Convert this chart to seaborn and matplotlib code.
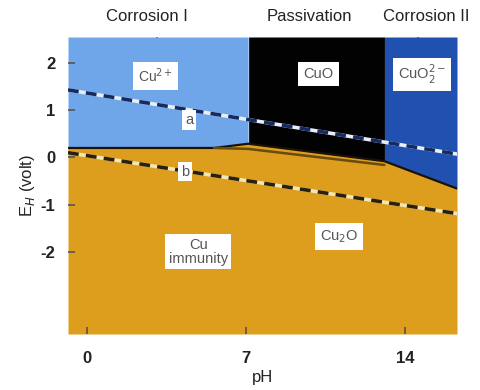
import matplotlib
matplotlib.use("Agg")
import matplotlib.pyplot as plt
import seaborn as sns
import numpy as np
import pandas as pd

sns.set_theme(style="white")
plt.rcParams['font.family'] = ['Liberation Sans', 'DejaVu Sans']

# ---- data ----
ph_lim = [-0.84, 16.3]
e_lim = [-3.74, 2.55]

# lower boundary of the oxidised/dissolved regions (top of Cu / Cu2O field)
bound_ph = [-0.84, 5.6, 7.1, 13.1, 16.3]
bound_e = [0.20, 0.20, 0.29, -0.08, -0.66]

# inner dark line (Cu / Cu2O) inside the orange field
inner_ph = [5.6, 7.1, 13.1]
inner_e = [0.20, 0.18, -0.16]

# region split points (pH)
cu2_end = 7.1
cuo_end = 13.1

# water stability lines
line_a_ph = [-0.84, 16.3]
line_a_e = [1.43, 0.07]
line_b_ph = [-0.84, 16.3]
line_b_e = [0.10, -1.19]

x_ticks = [0, 7, 14]
y_ticks = [2, 1, 0, -1, -2]

top_labels = ["Corrosion I", "Passivation", "Corrosion II"]
top_label_ph = [2.65, 9.8, 14.95]
top_tick_ph = [3.1, 14.6]

c_cu2 = "#6fa6ea"
c_cuo = "#020202"
c_cuo2 = "#2050b0"
c_cu = "#dc9e1c"

fig = plt.figure(figsize=(4.81, 3.90), dpi=100)
ax = fig.add_axes([68/481, 1-334/390, (457-68)/481, (334-37)/390])
ax.set_axisbelow(False)

xs = np.linspace(ph_lim[0], ph_lim[1], 800)
yb = np.interp(xs, bound_ph, bound_e)

ax.fill_between(xs, e_lim[0], yb, color=c_cu, lw=0)
ax.fill_between(xs, yb, e_lim[1], where=xs <= cu2_end + 0.01, color=c_cu2, lw=0)
ax.fill_between(xs, yb, e_lim[1], where=(xs >= cu2_end) & (xs <= cuo_end + 0.01), color=c_cuo, lw=0)
ax.fill_between(xs, yb, e_lim[1], where=xs >= cuo_end, color=c_cuo2, lw=0)

# boundary lines
bdf = pd.DataFrame({"pH": bound_ph, "E": bound_e})
sns.lineplot(data=bdf, x="pH", y="E", ax=ax, color="#1a1208", lw=1.6, sort=False)
idf = pd.DataFrame({"pH": inner_ph, "E": inner_e})
sns.lineplot(data=idf, x="pH", y="E", ax=ax, color="#6a4a10", lw=1.8, sort=False)

# dashed water lines (two-tone)
adf = pd.DataFrame({"pH": line_a_ph, "E": line_a_e})
sns.lineplot(data=adf, x="pH", y="E", ax=ax, color="#e8eef8", lw=2.6)
sns.lineplot(data=adf, x="pH", y="E", ax=ax, color="#152a60", lw=2.6, dashes=False,
             linestyle=(0, (3, 2)))
bdf2 = pd.DataFrame({"pH": line_b_ph, "E": line_b_e})
sns.lineplot(data=bdf2, x="pH", y="E", ax=ax, color="#f4e6b0", lw=2.6)
sns.lineplot(data=bdf2, x="pH", y="E", ax=ax, color="#2a2010", lw=2.6, dashes=False,
             linestyle=(0, (3, 2)))

box = dict(boxstyle="square,pad=0.35", fc="white", ec="none")
tc = "#555555"
ax.text(3.0, 1.73, "Cu$^{2+}$", ha="center", va="center", fontsize=10, color=tc, bbox=box)
ax.text(10.2, 1.76, "CuO", ha="center", va="center", fontsize=10.5, color=tc, bbox=box)
ax.text(14.75, 1.76, "CuO$_2^{2-}$", ha="center", va="center", fontsize=10.5, color=tc, bbox=box)
ax.text(4.5, 0.80, "a", ha="center", va="center", fontsize=10.5, color=tc,
        bbox=dict(boxstyle="square,pad=0.2", fc="white", ec="none"))
ax.text(4.3, -0.30, "b", ha="center", va="center", fontsize=10.5, color=tc,
        bbox=dict(boxstyle="square,pad=0.2", fc="white", ec="none"))
ax.text(11.1, -1.68, "Cu$_2$O", ha="center", va="center", fontsize=10.5, color=tc, bbox=box)
ax.text(4.9, -2.0, "Cu\nimmunity", ha="center", va="center", fontsize=10.5, color=tc,
        bbox=dict(boxstyle="square,pad=0.25", fc="white", ec="none"), linespacing=1.0)

ax.set_xlim(ph_lim)
ax.set_ylim(e_lim)
ax.set_xticks(x_ticks)
ax.set_xticklabels([str(t) for t in x_ticks], fontsize=12, fontweight="bold", color="#222222")
ax.set_yticks(y_ticks)
ax.set_yticklabels([str(t) for t in y_ticks], fontsize=12, fontweight="bold", color="#222222")
ax.tick_params(axis="both", direction="in", length=5, width=1.2, color="#555555",
               bottom=True, left=True)
ax.tick_params(axis="x", pad=12)
ax.tick_params(axis="y", pad=9)
for s in ax.spines.values():
    s.set_visible(False)

ax.set_xlabel("pH", fontsize=12, color="#222222", labelpad=3)
ax.set_ylabel("E$_H$ (volt)", fontsize=12, color="#222222", labelpad=3)

sec = ax.secondary_xaxis("top")
sec.set_xticks(top_tick_ph)
sec.set_xticklabels([])
sec.tick_params(direction="in", length=5, width=1.2, color="#555555")
for s in sec.spines.values():
    s.set_visible(False)
for lab, p in zip(top_labels, top_label_ph):
    ax.text(p, 1.045, lab, transform=ax.get_xaxis_transform(), ha="center", va="bottom",
            fontsize=12, color="#222222")

fig.savefig("out.png", dpi=100)
